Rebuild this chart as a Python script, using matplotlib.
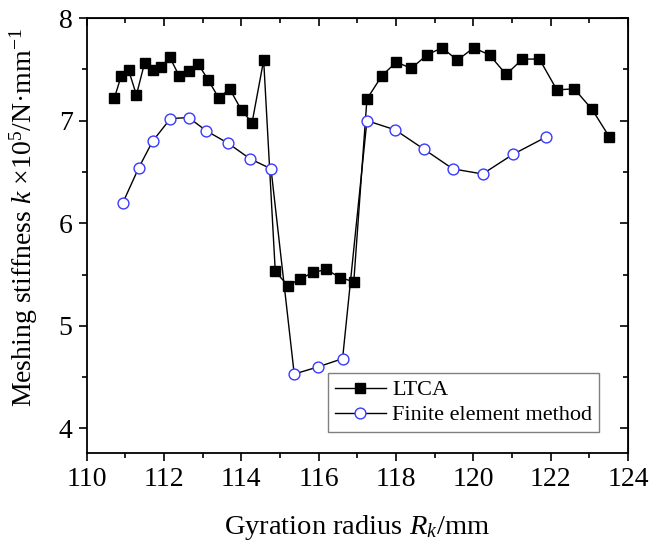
import matplotlib
matplotlib.use("Agg")
import matplotlib.pyplot as plt
from matplotlib.ticker import MultipleLocator

plt.rcParams['font.family'] = ['Liberation Serif', 'DejaVu Serif']
plt.rcParams['mathtext.fontset'] = 'custom'
plt.rcParams['mathtext.rm'] = 'Liberation Serif'
plt.rcParams['mathtext.it'] = 'Liberation Serif:italic'

# LTCA results
ltca_r = [110.72, 110.90, 111.09, 111.29, 111.50, 111.71, 111.93, 112.15, 112.39,
          112.64, 112.89, 113.14, 113.42, 113.70, 114.01, 114.28, 114.58, 114.88,
          115.21, 115.53, 115.86, 116.20, 116.55, 116.91, 117.25, 117.64, 118.01,
          118.40, 118.80, 119.19, 119.59, 120.01, 120.42, 120.85, 121.27, 121.71,
          122.16, 122.61, 123.07, 123.52]
ltca_k = [7.22, 7.44, 7.49, 7.25, 7.56, 7.49, 7.52, 7.62, 7.44,
          7.48, 7.55, 7.40, 7.22, 7.31, 7.10, 6.98, 7.59, 5.53,
          5.39, 5.46, 5.52, 5.55, 5.47, 5.43, 7.21, 7.44, 7.57,
          7.51, 7.64, 7.71, 7.59, 7.71, 7.64, 7.45, 7.60, 7.60,
          7.30, 7.31, 7.11, 6.84]

# finite element results
fem_r = [110.94, 111.35, 111.71, 112.17, 112.64, 113.10, 113.66, 114.22, 114.77,
         115.37, 115.99, 116.62, 117.25, 117.98, 118.73, 119.47, 120.24, 121.02,
         121.88]
fem_k = [6.20, 6.54, 6.80, 7.02, 7.03, 6.90, 6.78, 6.63, 6.53,
         4.53, 4.60, 4.68, 7.00, 6.91, 6.72, 6.53, 6.48, 6.67,
         6.84]

fig = plt.figure(figsize=(6.51, 5.47), dpi=100)
ax = fig.add_axes([0.1329, 0.1718, 0.8318, 0.7952])

ax.plot(ltca_r, ltca_k, color='black', lw=1.0, marker='s', ms=7.3,
        mfc='black', mec='black', label='LTCA')
ax.plot(fem_r, fem_k, color='black', lw=1.0, marker='o', ms=7.8,
        mfc='white', mec='#3a3aff', mew=1.0, label='Finite element method')

ax.set_xlim(110, 124)
ax.set_ylim(3.76, 8)
ax.xaxis.set_major_locator(MultipleLocator(2))
ax.xaxis.set_minor_locator(MultipleLocator(1))
ax.yaxis.set_major_locator(MultipleLocator(1))
ax.yaxis.set_minor_locator(MultipleLocator(0.5))

for s in ax.spines.values():
    s.set_linewidth(1.3)

ax.tick_params(which='both', labelsize=20, width=1.2)
ax.tick_params(which='major', direction='out', length=6, pad=4)
ax.tick_params(which='minor', direction='out', length=3.5)

# inward ticks on top and right without labels
ax2 = ax.secondary_xaxis('top')
ax2.xaxis.set_major_locator(MultipleLocator(2))
ax2.xaxis.set_minor_locator(MultipleLocator(1))
ax2.tick_params(which='major', direction='in', length=6, width=1.2, labeltop=False)
ax2.tick_params(which='minor', direction='in', length=3.5, width=1.2)
ay2 = ax.secondary_yaxis('right')
ay2.yaxis.set_major_locator(MultipleLocator(1))
ay2.yaxis.set_minor_locator(MultipleLocator(0.5))
ay2.tick_params(which='major', direction='in', length=6, width=1.2, labelright=False)
ay2.tick_params(which='minor', direction='in', length=3.5, width=1.2)

ax.set_xlabel('Gyration radius $R_k$/mm', fontsize=20.5, labelpad=15)
ax.set_ylabel('Meshing stiffness $k$ \u00d710$^{5}$/N\u00b7mm$^{-1}$', fontsize=20)
ax.yaxis.set_label_coords(-0.085, 0.541)

leg = ax.legend(loc='lower left', bbox_to_anchor=(0.446, 0.048), borderaxespad=0,
                fontsize=16, fancybox=False, framealpha=1, edgecolor='#808080',
                handlelength=2.3, handletextpad=0.3, borderpad=0.3, labelspacing=0.2)
leg.get_frame().set_linewidth(1.0)

fig.savefig('out.png', dpi=100)
